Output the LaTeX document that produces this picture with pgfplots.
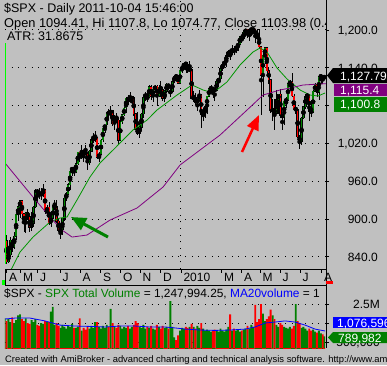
\documentclass[border=0pt]{standalone}
\usepackage{pgfplots}
\pgfplotsset{compat=1.18}
\usepackage{pgfplotstable}
\usepackage{fontspec}
\setmainfont{Liberation Sans}
\usetikzlibrary{arrows.meta}
\definecolor{bgc}{RGB}{192,192,192}
\definecolor{cgreen}{RGB}{0,128,0}
\definecolor{cred}{RGB}{255,0,0}
\definecolor{mapurple}{RGB}{128,0,128}
\definecolor{magreen}{RGB}{0,150,0}
\definecolor{lime}{RGB}{0,255,0}
\definecolor{vblue}{RGB}{0,0,255}
\newcommand\tfont{\fontsize{12.5}{14}\selectfont}
\newcommand\lfont{\fontsize{12}{14}\selectfont}

\pgfplotstableread{
x o h l c v
6.5 841.5 867 836 865.3 1.75
8.5 865.3 875 829 832.4 1.6
10.5 832.4 854 830 843.6 1.7
12.5 843.6 871 839 866.2 1.55
14.5 866.2 868 847 855.2 1.8
16.5 855.2 880 853 872.8 1.5
18.5 872.8 908 866 907.2 1.65
20.5 907.2 922 897 919.5 1.9
22.5 919.5 930 901 929.2 1.95
24.5 929.2 930 903 908.4 1.7
26.5 908.4 910 880 893.1 1.6
28.5 893.1 911 878 909.7 1.75
30.5 909.7 916 898 903.5 1.5
32.5 903.5 906 880 887.0 1.45
34.5 887.0 911 881 893.1 1.65
36.5 893.1 921 888 919.1 1.55
38.5 919.1 947 918 944.7 1.7
40.5 944.7 948 926 942.5 1.4
42.5 942.5 949 932 939.1 1.35
44.5 939.1 950 930 939.2 1.5
46.5 939.2 956 935 946.2 1.45
48.5 946.2 948 908 912.0 1.6
50.5 912.0 922 903 918.4 1.55
52.5 918.4 927 890 893.0 1.55
54.5 893.0 911 888 900.9 2.1
56.5 900.9 922 897 918.9 2.35
58.5 918.9 931 915 919.3 1.4
60.5 919.3 931 894 896.4 1.5
62.5 896.4 902 879 881.0 1.35
64.5 881.0 887 869 882.7 1.25
66.5 882.7 902 875 901.1 1.4
68.5 901.1 934 897 932.7 1.3
70.5 932.7 943 928 940.4 1.2
72.5 940.4 957 938 954.6 1.35
74.5 954.6 979 946 976.3 1.3
76.5 976.3 983 969 982.2 1.45
78.5 982.2 983 968 975.2 1.25
80.5 975.2 993 973 987.5 1.25
82.5 987.5 1007 986 1005.7 1.3
84.5 1005.7 1007 991 997.1 1.75
86.5 997.1 1018 995 1007.1 1.1
88.5 1007.1 1008 991 1005.8 1.25
90.5 1005.8 1018 1001 1004.1 1.15
92.5 1004.1 1005 978 989.7 1.3
94.5 989.7 1009 986 1007.4 1.2
96.5 1007.4 1028 1006 1025.6 1.35
98.5 1025.6 1037 1021 1028.1 1.25
100.5 1028.1 1039 1023 1028.9 1.55
102.5 1028.9 1030 996 998.0 1.55
104.5 998.0 1006 991 1003.2 1.3
106.5 1003.2 1027 1001 1025.4 1.2
108.5 1025.4 1045 1022 1044.1 1.35
110.5 1044.1 1050 1036 1049.3 1.25
112.5 1049.3 1070 1046 1068.8 1.4
114.5 1068.8 1074 1061 1068.3 1.3
116.5 1068.3 1080 1060 1071.7 2.25
118.5 1071.7 1072 1048 1050.8 1.5
120.5 1050.8 1065 1041 1063.0 1.3
122.5 1063.0 1069 1053 1057.1 1.25
124.5 1057.1 1060 1020 1025.2 1.4
126.5 1025.2 1057 1024 1054.7 1.35
128.5 1054.7 1067 1051 1065.5 1.2
130.5 1065.5 1078 1063 1076.2 1.3
132.5 1076.2 1093 1068 1092.0 1.25
134.5 1092.0 1097 1081 1087.7 1.35
136.5 1087.7 1101 1086 1091.1 1.2
138.5 1091.1 1095 1079 1092.9 1.3
140.5 1092.9 1095 1063 1067.0 1.4
142.5 1067.0 1069 1041 1042.6 1.6
144.5 1042.6 1070 1034 1036.2 1.5
146.5 1036.2 1052 1029 1045.4 1.3
148.5 1045.4 1068 1040 1066.6 1.25
150.5 1066.6 1094 1060 1093.1 1.4
152.5 1093.1 1101 1088 1098.5 1.2
154.5 1098.5 1099 1085 1093.5 1.3
156.5 1093.5 1113 1093 1110.3 1.25
158.5 1110.3 1112 1089 1094.9 1.35
160.5 1094.9 1107 1085 1106.2 1.2
162.5 1106.2 1113 1102 1110.6 1.15
164.5 1110.6 1112 1080 1095.6 1.4
166.5 1095.6 1112 1094 1109.2 1.3
168.5 1109.2 1119 1094 1106.0 1.2
170.5 1106.0 1108 1088 1091.9 1.35
172.5 1091.9 1104 1086 1102.4 1.25
174.5 1102.4 1116 1100 1114.1 1.3
176.5 1114.1 1115 1104 1109.2 1.2
178.5 1100.5 1110 1093 1102.5 2.65
180.5 1102.5 1119 1102 1118.0 1.3
182.5 1118.0 1127 1116 1126.5 0.75
184.5 1126.5 1130 1122 1126.2 0.6
186.5 1126.2 1128 1114 1115.1 0.85
188.5 1115.1 1137 1115 1136.5 1.1
190.5 1136.5 1143 1132 1141.7 1.25
192.5 1141.7 1149 1138 1147.0 1.2
194.5 1147.0 1147 1132 1145.7 1.3
196.5 1145.7 1150 1131 1136.0 1.25
198.5 1136.0 1150.5 1134 1138.0 1.3
200.5 1138.0 1139 1090 1091.8 1.45
202.5 1091.8 1103 1085 1092.2 1.3
204.5 1092.2 1100 1081 1084.5 1.2
206.5 1084.5 1090 1071 1089.2 1.35
208.5 1089.2 1104 1088 1097.3 1.25
210.5 1097.3 1098 1045 1066.2 1.5
212.5 1066.2 1075 1055 1070.5 1.2
214.5 1070.5 1080 1061 1078.5 1.1
216.5 1078.5 1095 1066 1094.9 1.15
218.5 1094.9 1108 1093 1106.8 1.1
220.5 1106.8 1112 1102 1108.0 1.05
222.5 1108.0 1109 1092 1105.2 1.1
224.5 1105.2 1108 1087 1104.5 1.15
226.5 1104.5 1120 1103 1118.3 1.1
228.5 1118.3 1124 1113 1123.0 1.05
230.5 1123.0 1141 1121 1138.5 1.2
232.5 1138.5 1148 1135 1145.6 1.1
234.5 1145.6 1152 1141 1150.0 1.05
236.5 1150.0 1161 1141 1159.5 1.15
238.5 1159.5 1169 1157 1165.8 1.3
240.5 1165.8 1168 1152 1165.0 1.95
242.5 1165.0 1176 1160 1167.7 1.1
244.5 1167.7 1174 1161 1166.6 1.2
246.5 1166.6 1176 1163 1173.3 1.1
248.5 1173.3 1181 1167 1178.1 1.15
250.5 1178.1 1191 1176 1189.4 1.05
252.5 1189.4 1191 1179 1186.4 1.1
254.5 1186.4 1200 1184 1196.5 1.15
256.5 1196.5 1201 1193 1201 1.2
258.5 1201 1201 1187 1192.1 1.35
260.5 1192.1 1201 1183 1201 1.2
262.5 1200.5 1201 1190 1201 1.4
264.5 1200.5 1201 1197 1201 1.3
266.5 1201 1201 1180 1191.4 2.45
268.5 1191.4 1201 1185 1186.7 1.55
270.5 1186.7 1201 1170 1173.6 1.7
272.5 1173.6 1175 1065.8 1128.2 2.5
274.5 1128.2 1163 1094 1159.7 2.0
276.5 1159.7 1173 1146 1171.7 1.6
278.5 1171.7 1173 1126 1135.7 1.7
280.5 1135.7 1141 1115 1120.8 1.85
282.5 1120.8 1121 1069 1071.6 2.2
284.5 1071.6 1090 1055.9 1073.7 1.9
286.5 1073.7 1090 1040.8 1068.0 1.7
288.5 1068.0 1104 1066 1089.4 1.4
290.5 1089.4 1099 1066 1098.4 1.3
292.5 1098.4 1106 1060 1064.9 1.5
294.5 1064.9 1066 1042 1062.0 1.4
296.5 1062.0 1088 1050 1086.8 1.3
298.5 1086.8 1094 1076 1089.6 1.25
300.5 1089.6 1116 1088 1114.6 1.2
302.5 1114.6 1120 1105 1117.5 1.3
304.5 1117.5 1131 1094 1095.3 1.2
306.5 1095.3 1099 1071 1073.7 1.35
308.5 1073.7 1083 1066 1074.6 2.5
310.5 1074.6 1075 1028 1030.7 1.6
312.5 1030.7 1034 1010.9 1022.6 1.5
314.5 1022.6 1062 1018 1060.3 1.25
316.5 1060.3 1080 1058 1078.0 1.3
318.5 1078.0 1099 1074 1095.3 1.2
320.5 1095.3 1099 1087 1096.5 1.1
322.5 1096.5 1098 1056 1071.3 1.2
324.5 1071.3 1086 1062 1069.6 1.1
326.5 1069.6 1104 1068 1102.7 1.15
328.5 1102.7 1116 1101 1113.8 1.05
330.5 1113.8 1115 1094 1101.5 1.0
332.5 1101.5 1128 1089 1125.9 1.1
334.5 1125.9 1129 1115 1127.2 0.95
336.5 1127.2 1129 1114 1121.6 0.9
338 1122.8 1129 1120 1127.8 0.79
}\bars

\begin{document}
\begin{tikzpicture}
\fill[bgc] (0pt,0pt) rectangle (387pt,-365pt);
\useasboundingbox (0pt,0pt) rectangle (387pt,-365pt);

% ---------------- price panel
\begin{axis}[at={(5pt,-269pt)}, anchor=south west, scale only axis,
  width=321pt, height=269pt,
  xmin=6.95, xmax=339.9, ymin=820.7, ymax=1247.6,
  axis line style={draw=none},
  xtick=\empty,
  extra x ticks={188.5}, extra x tick labels={},
  extra x tick style={grid=major, major tick length=0pt},
  ytick={840,900,960,1020,1080,1140,1200},
  yticklabels={,,,,,,},
  ytick pos=right, tick align=outside, major tick length=3pt,
  tick style={black, line width=0.8pt},
  ymajorgrids,
  major grid style={black, line width=1pt, dash pattern=on 1pt off 5.67pt}]
% wicks
\addplot[only marks, mark=none, error bars/.cd, y dir=both, y explicit, error mark=none,
  error bar style={draw=black, line width=0.6pt}]
  table[x=x, y expr={(\thisrow{h}+\thisrow{l})/2}, y error expr={(\thisrow{h}-\thisrow{l})/2}] {\bars};
% body outlines
\addplot[only marks, mark=none, error bars/.cd, y dir=both, y explicit, error mark=none,
  error bar style={draw=black, line width=2.4pt}]
  table[x=x, y expr={(\thisrow{o}+\thisrow{c})/2}, y error expr={abs(\thisrow{c}-\thisrow{o})/2+0.7}] {\bars};
% up bodies
\addplot[only marks, mark=none, error bars/.cd, y dir=both, y explicit, error mark=none,
  error bar style={draw=cgreen, line width=1.4pt}]
  table[x=x, y expr={\thisrow{c}>=\thisrow{o} ? (\thisrow{o}+\thisrow{c})/2 : 0}, y error expr={abs(\thisrow{c}-\thisrow{o})/2}] {\bars};
% down bodies
\addplot[only marks, mark=none, error bars/.cd, y dir=both, y explicit, error mark=none,
  error bar style={draw=cred, line width=1.4pt}]
  table[x=x, y expr={\thisrow{c}<\thisrow{o} ? (\thisrow{o}+\thisrow{c})/2 : 0}, y error expr={abs(\thisrow{c}-\thisrow{o})/2}] {\bars};
% 50-day MA
\addplot[magreen, line width=0.8pt] coordinates {
(11.1,815.9) (14.2,822.2) (22.5,847.6) (36.0,871.4) (53.6,895.2) (64.0,901.6)
(71.3,903.2) (81.6,930.2) (95.1,966.7) (105.5,988.9) (121.1,1012.7) (139.7,1041.3)
(154.3,1057.1) (164.6,1073.0) (185.4,1096.8) (200.9,1112.7) (212.4,1104.8) (222.7,1100.0)
(237.2,1117.5) (250.7,1144.4) (264.2,1165.1) (271.5,1171.4) (278.7,1165.1) (289.1,1139.7)
(299.5,1122.2) (313.0,1104.8) (323.3,1096.8) (331.6,1095.2) (338.9,1100.0)};
% 200-day MA
\addplot[mapurple, line width=0.8pt] coordinates {
(6.95,988.9) (36.0,934.9) (53.6,903.2) (66.1,882.5) (76.5,871.4) (92.0,874.6)
(115.9,898.4) (143.9,917.5) (170.9,950.8) (188.5,985.7) (209.2,1009.5) (230.0,1033.3)
(243.5,1052.4) (258.0,1073.0) (274.6,1096.8) (292.2,1104.8) (302.6,1107.9) (316.1,1112.7)
(333.7,1114.3) (339.9,1114.8)};
\end{axis}

% ---------------- volume panel
\begin{axis}[at={(5pt,-348pt)}, anchor=south west, scale only axis,
  width=321pt, height=63pt,
  xmin=6.95, xmax=339.9, ymin=0.184, ymax=3.5,
  axis line style={draw=none},
  xtick=\empty,
  ytick={0.5,1.5,2.5},
  yticklabels={,,},
  ytick pos=right, tick align=outside, major tick length=3pt,
  tick style={black, line width=0.8pt},
  ymajorgrids,
  major grid style={black, line width=1pt, dash pattern=on 1pt off 5.67pt}]
\addplot[ybar, bar width=1.93pt, bar shift=0pt, fill=cgreen, draw=none]
  table[x=x, y expr={\thisrow{c}>=\thisrow{o} ? \thisrow{v} : 0}] {\bars};
\addplot[ybar, bar width=1.93pt, bar shift=0pt, fill=cred, draw=none]
  table[x=x, y expr={\thisrow{c}<\thisrow{o} ? \thisrow{v} : 0}] {\bars};
\addplot[vblue, line width=0.8pt] coordinates {
(6.95,1.71) (17.3,1.76) (32.9,1.76) (48.4,1.61) (64.0,1.39) (79.6,1.34) (95.1,1.32)
(110.7,1.29) (126.2,1.34) (141.8,1.34) (157.4,1.29) (172.9,1.29) (183.3,1.24) (193.7,1.18)
(209.2,1.13) (224.8,1.11) (240.3,1.13) (255.9,1.18) (266.3,1.29) (276.7,1.50) (287.0,1.55)
(297.4,1.61) (307.8,1.55) (318.2,1.39) (328.5,1.18) (338.9,1.08)};
\end{axis}

% ---------------- decorations (pixel coordinates, y down)
\begin{scope}[x=1pt, y=-1pt]
% frame lines
\draw[black, line width=1pt] (5,269) -- (326,269);
\draw[black, line width=1pt] (5,285) -- (326,285);
\draw[black, line width=1pt] (326,0) -- (326,348);
\draw[black, line width=1pt] (5.5,269) -- (5.5,285);
\draw[lime, line width=1pt] (5.3,43) -- (5.3,264);
\fill[lime] (2,280) rectangle (5,285);
\fill[cred] (326,281) rectangle (333,284);
% date ticks and labels
\foreach \t/\m in {6.7/A, 20.7/M, 37.5/J, 60/J, 80/A, 100.5/S, 120.7/O, 140/N, 160.7/D, 181/2010, 221.7/M, 241.7/A, 260/M, 280/J, 300/J, 321.7/A}{
  \draw[black, line width=0.8pt] (\t,269) -- (\t,273);
  \node[anchor=base west, inner sep=0, font=\lfont] at (\t+2.3,281) {\m};
}
% titles (clipped to panel)
\begin{scope}
\clip (0,0) rectangle (326,348);
\node[anchor=base west, inner sep=0, font=\tfont] at (4,12) {\$SPX - Daily 2011-10-04 15:46:00};
\node[anchor=base west, inner sep=0, font=\fontsize{12.8}{14}\selectfont] at (4,27.2) {Open 1094.41, Hi 1107.8, Lo 1074.77, Close 1103.98 (0.4};
\node[anchor=base west, inner sep=0, font=\tfont] at (7,40.5) {ATR: 31.8675};
\node[anchor=base west, inner sep=0, font=\fontsize{11.9}{14}\selectfont] at (4,297.6) {\$SPX - \textcolor{cgreen}{SPX Total Volume} = 1,247,994.25, \textcolor{vblue}{MA20volume} = 1};
\end{scope}
% right axis labels
\foreach \yy/\lab in {34.3/{1,200.0}, 72.1/{1,140.0}, 147.7/{1,020.0}, 185.5/{960.0}, 223.3/{900.0}, 261.1/{840.0}}{
  \node[anchor=base east, inner sep=0, font=\lfont] at (378,\yy) {\lab};
}
\node[anchor=base east, inner sep=0, font=\lfont] at (380,308.3) {2.5M};
\begin{scope}
\clip (327,343) rectangle (387,348.5);
\node[anchor=base east, inner sep=0, font=\lfont] at (380,346.3) {500,000};
\end{scope}
% value boxes
\fill[black] (327,75.5) -- (333,68) -- (387,68) -- (387,83) -- (333,83) -- cycle;
\node[anchor=base west, inner sep=0, font=\lfont, text=white] at (340,80) {1,127.79};
\fill[mapurple] (334,84) rectangle (387,96);
\node[anchor=base west, inner sep=0, font=\lfont, text=white] at (340,94.3) {1,115.4};
\fill[cgreen] (334,97) rectangle (387,112);
\node[anchor=base west, inner sep=0, font=\lfont, text=white] at (340,108.8) {1,100.8};
\fill[vblue] (333,317) rectangle (387,328);
\begin{scope}
\clip (333,317) rectangle (387,328);
\node[anchor=base west, inner sep=0, font=\lfont, text=white] at (337,327) {1,076,596};
\end{scope}
\fill[cgreen] (328,337.5) -- (333,332) -- (387,332) -- (387,343) -- (333,343) -- cycle;
\node[anchor=base west, inner sep=0, font=\lfont, text=white] at (338,342) {789,982};
% footer
\fill[bgc] (0,348.5) rectangle (387,365);
\begin{scope}
\clip (0,348.5) rectangle (387,365);
\node[anchor=base west, inner sep=0, font=\fontsize{9.4}{11}\selectfont] at (5,362.3) {Created with AmiBroker - advanced charting and technical analysis software. http://www.amibroker.com};
\end{scope}
% arrows
\draw[cgreen, line width=3pt, -{Triangle[length=15pt, width=13pt]}] (108,237) -- (71,217);
\draw[cred, line width=2.5pt, -{Triangle[length=15pt, width=12pt]}] (242,152) -- (259,115);
\end{scope}
\end{tikzpicture}
\end{document}
